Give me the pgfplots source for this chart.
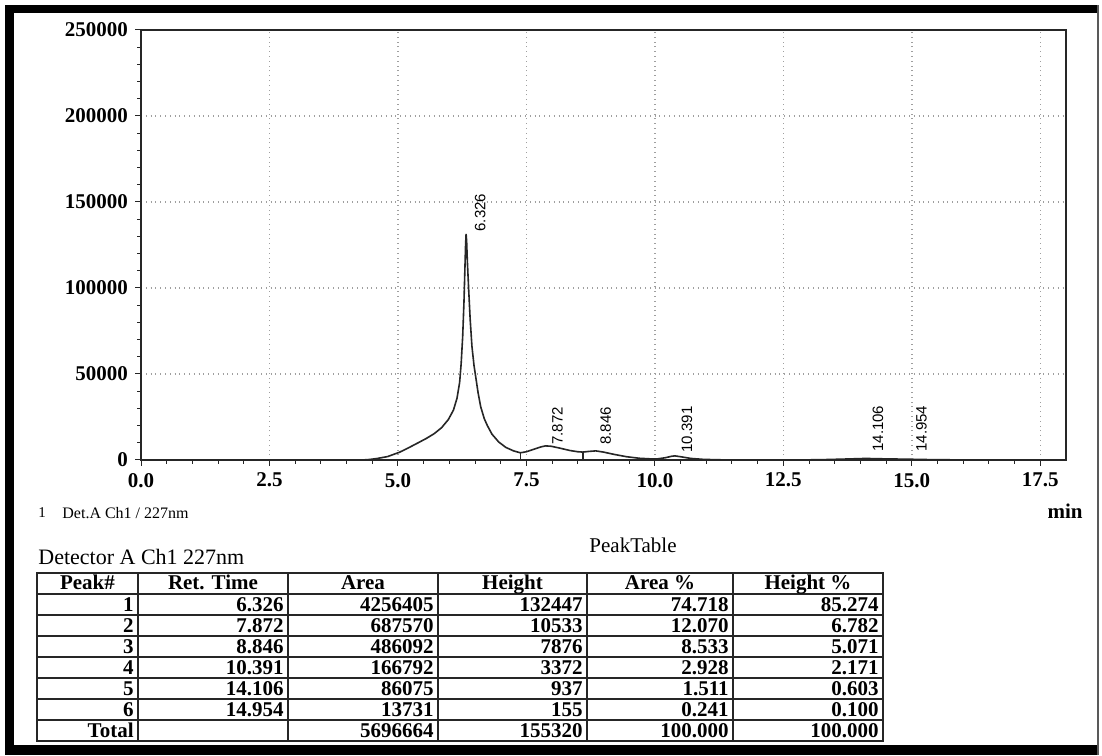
\documentclass[border=0pt]{standalone}
\usepackage{fontspec}
\setmainfont{Liberation Serif}
\setsansfont{Liberation Sans}
\usepackage{pgfplots}
\pgfplotsset{compat=1.18}
\usetikzlibrary{calc}

\begin{document}
\begin{tikzpicture}[x=1pt,y=1pt]
\path[use as bounding box] (0,0) rectangle (551,377.5);
\fill[white] (0,0) rectangle (551,377.5);
% photo frame
\fill[black] (2.5,371) rectangle (549.5,375);
\fill[black] (2.5,0) rectangle (7,375);
\fill[black] (2.5,0) rectangle (549.5,5);
\draw[gray!70!black,line width=0.8pt] (549,0) -- (549,375);

\begin{axis}[
  at={(70.5pt,147.5pt)}, anchor=south west,
  width=462.5pt, height=215pt, scale only axis,
  xmin=0, xmax=18, ymin=0, ymax=250000,
  xtick={0,2.5,5,7.5,10,12.5,15,17.5},
  xticklabels={0.0,2.5,5.0,7.5,10.0,12.5,15.0,17.5},
  ytick={0,50000,100000,150000,200000,250000},
  yticklabels={0,50000,100000,150000,200000,250000},
  scaled y ticks=false, scaled x ticks=false,
  tick pos=left, tick align=outside,
  minor x tick num=4, minor y tick num=4,
  major tick length=3pt, minor tick length=2pt,
  grid=major,
  major grid style={dotted, line width=0.7pt, gray!75},
  axis line style={line width=0.6pt, black!85},
  every tick/.style={black!85, line width=0.5pt},
  /pgf/number format/assume math mode=true,
  ticklabel style={font=\fontsize{10.5}{12}\selectfont\bfseries},
  clip=false,
]
\addplot[black!85, line width=0.8pt] coordinates {
(0,0) (4.3,0) (4.45,300) (4.6,900) (4.8,2000) (5.03,4500) (5.2,7000) (5.38,9800)
(5.55,12500) (5.7,15200) (5.85,18800) (5.98,23500) (6.08,29000) (6.15,36000)
(6.2,45000) (6.23,56000) (6.26,72000) (6.285,92000) (6.30,108000) (6.315,124000)
(6.326,131500) (6.337,127000) (6.35,116000) (6.375,100000) (6.405,82000)
(6.44,66000) (6.48,55000) (6.515,48000) (6.56,39000) (6.61,31000) (6.68,24000)
(6.74,20000) (6.83,15000) (6.96,10500) (7.1,7300) (7.25,5300) (7.38,4200)
(7.5,4800) (7.65,6300) (7.78,7600) (7.87,8200) (7.98,8000) (8.15,6900) (8.35,5500)
(8.5,4800) (8.6,4600) (8.72,5000) (8.85,5300) (9.0,4600) (9.2,3300) (9.45,1900)
(9.7,1000) (9.95,600) (10.05,650) (10.2,1300) (10.33,2200) (10.39,2400) (10.5,1900)
(10.7,900) (10.95,350) (11.3,100) (11.8,0) (12.5,0) (13.2,150) (13.7,550)
(14.1,900) (14.5,650) (14.95,450) (15.4,200) (16.0,50) (16.6,0) (17.6,0)
};
% peak separation (drop) lines
\addplot[black!85, line width=0.6pt] coordinates {(7.38,0) (7.38,4200)};
\addplot[black!85, line width=0.6pt] coordinates {(8.6,0) (8.6,4600)};
\addplot[black!85, line width=0.6pt] coordinates {(10.05,0) (10.05,650)};
% peak labels
\begin{scope}[every node/.style={rotate=90, anchor=west, inner sep=1pt,
    font=\sffamily\fontsize{7.5}{8}\selectfont}]
\node at ($(axis cs:6.326,131500)+(7pt,0)$) {6.326};
\node at ($(axis cs:7.872,7500)+(6pt,0)$) {7.872};
\node at ($(axis cs:8.846,7500)+(5pt,0)$) {8.846};
\node at ($(axis cs:10.391,3000)+(6pt,0)$) {10.391};
\node at ($(axis cs:14.106,3500)+(6pt,0)$) {14.106};
\node at ($(axis cs:14.954,3500)+(6pt,0)$) {14.954};
\end{scope}
\end{axis}

% labels below chart
\node[anchor=west, inner sep=0, font=\fontsize{7.5}{9}\selectfont] at (19,121) {1};
\node[anchor=west, inner sep=0, font=\fontsize{8}{9}\selectfont] at (31,121) {Det.A Ch1 / 227nm};
\node[anchor=center, inner sep=0, font=\fontsize{10.5}{12}\selectfont\bfseries] at (532.5,122) {min};
\node[anchor=base, inner sep=0, font=\fontsize{10.5}{12}\selectfont] at (316.5,101) {PeakTable};
\node[anchor=base west, inner sep=0, font=\fontsize{11}{12}\selectfont] at (19,95.5) {Detector A Ch1 227nm};

% peak table
\begin{scope}[line width=0.8pt, black!85]
\draw (18.5,91) rectangle (441.5,7);
\foreach \y in {80.5,70,59.5,49,38.5,28,17.5} \draw (18.5,\y) -- (441.5,\y);
\foreach \x in {69,144,219,293.5,366.5} \draw (\x,91) -- (\x,7);
\end{scope}
\begin{scope}[every node/.style={inner sep=0, font=\fontsize{10.5}{12}\selectfont\bfseries}]
\node[anchor=base] at (43.75,82.5) {Peak\#};
\node[anchor=base] at (106.5,82.5) {Ret. Time};
\node[anchor=base] at (181.5,82.5) {Area};
\node[anchor=base] at (256.25,82.5) {Height};
\node[anchor=base] at (330,82.5) {Area \%};
\node[anchor=base] at (404,82.5) {Height \%};
\foreach \p/\rt/\ar/\h/\ap/\hp [count=\i from 0] in {
  1/6.326/4256405/132447/74.718/85.274,
  2/7.872/687570/10533/12.070/6.782,
  3/8.846/486092/7876/8.533/5.071,
  4/10.391/166792/3372/2.928/2.171,
  5/14.106/86075/937/1.511/0.603,
  6/14.954/13731/155/0.241/0.100,
  Total/ /5696664/155320/100.000/100.000}{
  \pgfmathsetmacro\yb{71.8-10.5*\i}
  \node[anchor=base east] at (67,\yb) {\p};
  \node[anchor=base east] at (142,\yb) {\rt};
  \node[anchor=base east] at (217,\yb) {\ar};
  \node[anchor=base east] at (291.5,\yb) {\h};
  \node[anchor=base east] at (364.5,\yb) {\ap};
  \node[anchor=base east] at (439.5,\yb) {\hp};
}
\end{scope}
\end{tikzpicture}
\end{document}
